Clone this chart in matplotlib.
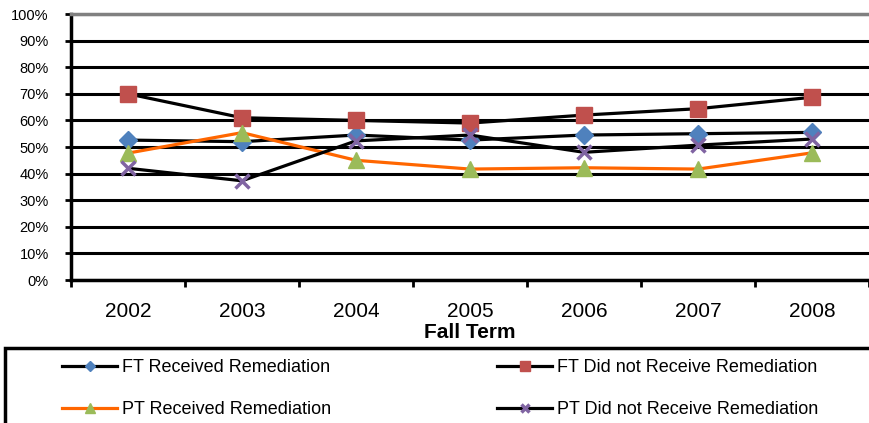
import matplotlib.pyplot as plt
from matplotlib.patches import Rectangle
from matplotlib.ticker import FuncFormatter, MultipleLocator

years = ['2002', '2003', '2004', '2005', '2006', '2007', '2008']
ft_received = [52.6, 52.0, 54.5, 52.6, 54.5, 55.0, 55.5]
ft_not_received = [70.0, 61.0, 60.0, 59.0, 62.0, 64.4, 68.7]
pt_received = [47.7, 55.4, 45.0, 41.7, 42.2, 41.7, 47.8]
pt_not_received = [42.0, 37.3, 52.3, 54.5, 48.0, 50.7, 53.0]

plt.rcParams['font.family'] = ['Liberation Sans', 'DejaVu Sans']

fig = plt.figure(figsize=(8.69, 4.23), dpi=100)
ax = fig.add_axes([71 / 869, 1 - 280 / 423, 1 - 71 / 869, 266 / 423])

x = range(len(years))
h1, = ax.plot(x, ft_received, color='black', lw=2.3, marker='D', ms=9,
              mfc='#4F81BD', mec='#4F81BD', label='FT Received Remediation', zorder=3)
h2, = ax.plot(x, ft_not_received, color='black', lw=2.3, marker='s', ms=11,
              mfc='#C0504D', mec='#C0504D', label='FT Did not Receive Remediation', zorder=3)
h3, = ax.plot(x, pt_received, color='#FF6600', lw=2.3, marker='^', ms=11,
              mfc='#9BBB59', mec='#9BBB59', label='PT Received Remediation', zorder=3)
h4, = ax.plot(x, pt_not_received, color='black', lw=2.3, marker='x', ms=10, mew=2.5,
              mfc='#8064A2', mec='#8064A2', label='PT Did not Receive Remediation', zorder=3)

ax.set_xlim(-0.5, 6.5)
ax.set_ylim(0, 100)
ax.set_xticks(list(x))
ax.set_xticklabels(years, fontsize=15)
ax.set_xticks([i - 0.5 for i in range(8)], minor=True)
ax.tick_params(axis='x', which='major', length=0, pad=16)
ax.tick_params(axis='x', which='minor', length=5, width=2, direction='out', color='black')
ax.yaxis.set_major_locator(MultipleLocator(10))
ax.yaxis.set_major_formatter(FuncFormatter(lambda v, p: f'{v:.0f}%'))
ax.tick_params(axis='y', length=4, width=2, labelsize=10.5, pad=12)
ax.yaxis.grid(True, color='black', lw=2.2)
ax.set_axisbelow(True)

ax.spines['left'].set_linewidth(2.5)
ax.spines['bottom'].set_linewidth(2.5)
ax.spines['top'].set_color('#808080')
ax.spines['top'].set_linewidth(2.5)
ax.spines['right'].set_visible(False)

ax.set_xlabel('Fall Term', fontsize=15, fontweight='bold', labelpad=1)

# legend box runs off the right and bottom edges
fig.patches.append(Rectangle((5 / 869, -0.1), 1.0, (423 - 348) / 423 + 0.1,
                             transform=fig.transFigure, fill=False,
                             edgecolor='black', lw=2.5, clip_on=False))
fig.legend([h1, h3, h2, h4], [h.get_label() for h in (h1, h3, h2, h4)],
           loc='upper left', bbox_to_anchor=(62 / 869, 1 - 359 / 423),
           ncol=2, frameon=False, borderpad=0, borderaxespad=0,
           handlelength=3.05, handletextpad=0.28,
           columnspacing=9.2, labelspacing=1.4, markerscale=0.6,
           prop={'size': 13})

fig.savefig('out.png', dpi=100)
